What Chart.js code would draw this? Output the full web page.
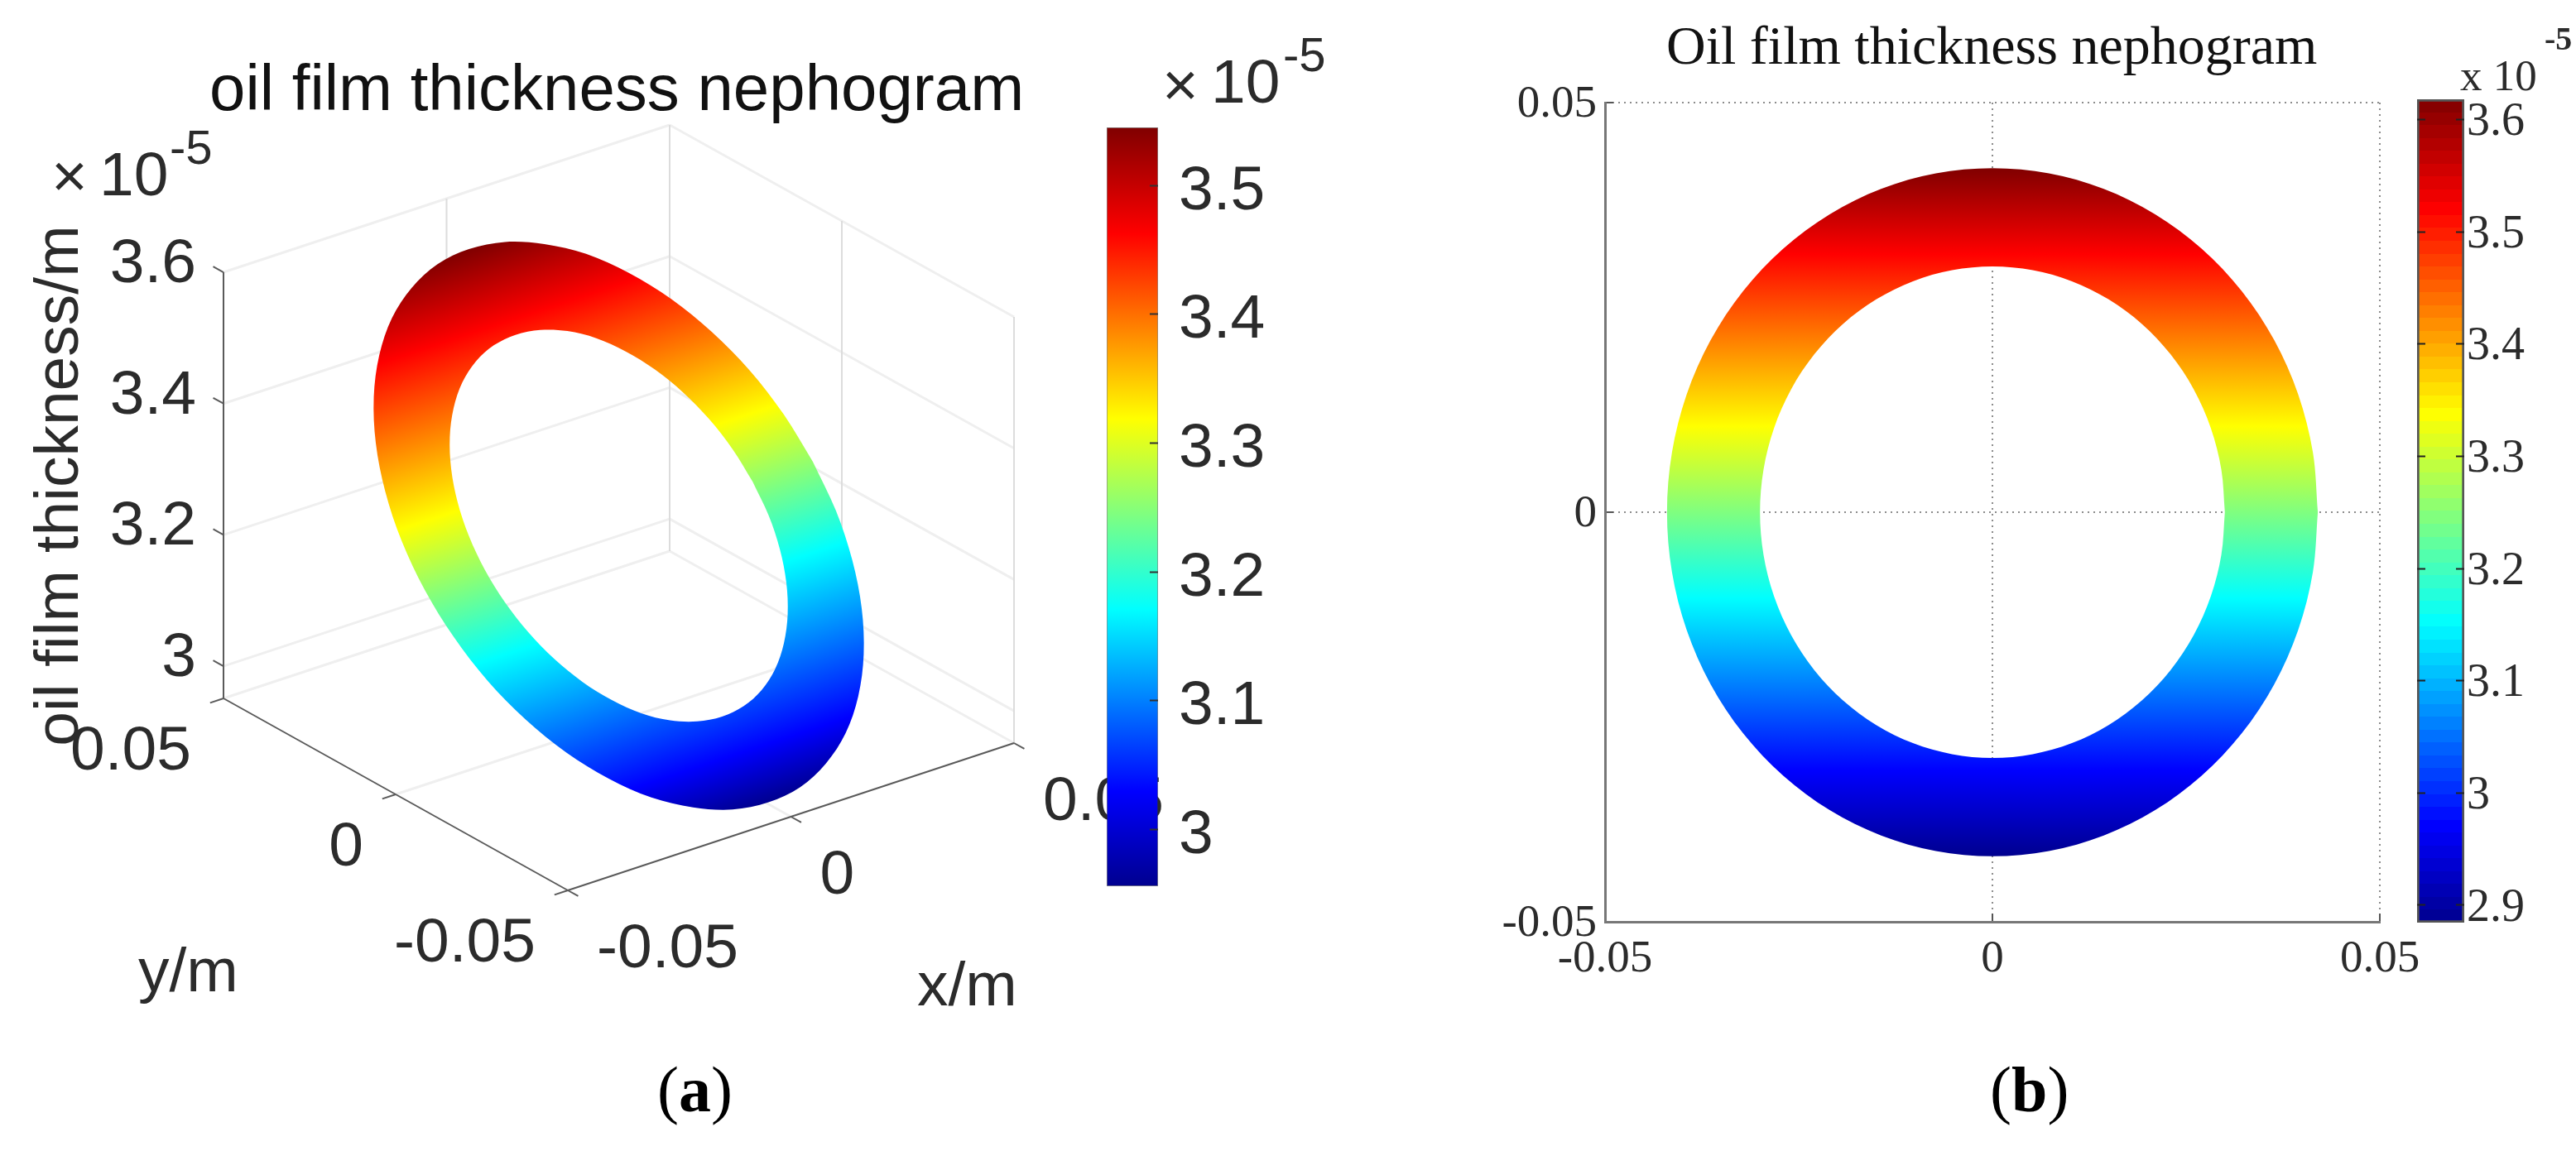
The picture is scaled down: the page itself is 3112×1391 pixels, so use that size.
<!DOCTYPE html>
<html>
<head>
<meta charset="utf-8">
<title>Oil film thickness nephogram</title>
<script src="https://cdn.jsdelivr.net/npm/chart.js@4/dist/chart.umd.js"></script>
<style>
  html, body { margin: 0; background: #fff; }
  #page { position: relative; width: 3112px; height: 1391px; overflow: hidden; }
  canvas { position: absolute; }
  .caption { position: absolute; top: 1272px; font: 78px "Liberation Serif", serif; color: #000; line-height: 90px; }
</style>
</head>
<body>
<div id="page">
  <canvas id="ring3d" style="left:0;top:0" width="1500" height="1391"></canvas>
  <canvas id="barA" style="left:1300px;top:0" width="400" height="1250"></canvas>
  <canvas id="ring2d" style="left:1750px;top:0" width="1200" height="1250"></canvas>
  <canvas id="barB" style="left:2900px;top:0" width="212" height="1250"></canvas>
  <div class="caption" style="left:794px">(<b>a</b>)</div>
  <div class="caption" style="left:2404px">(<b>b</b>)</div>
</div>

<script>
// Ring outline (angle in degrees, radius in m)
const ringAngles = [0, 10, 20, 30, 40, 50, 60, 70, 80, 90, 100, 110, 120, 130, 140, 150, 160, 170, 180, 190, 200, 210, 220, 230, 240, 250, 260, 270, 280, 290, 300, 310, 320, 330, 340, 350, 360];
const outerThickness = [3.248, 3.299, 3.349, 3.395, 3.437, 3.473, 3.503, 3.524, 3.538, 3.542, 3.538, 3.524, 3.503, 3.473, 3.437, 3.395, 3.349, 3.299, 3.248, 3.197, 3.147, 3.101, 3.059, 3.023, 2.993, 2.972, 2.958, 2.954, 2.958, 2.972, 2.993, 3.023, 3.059, 3.101, 3.147, 3.197, 3.248];
const innerThickness = [3.248, 3.283, 3.317, 3.349, 3.378, 3.403, 3.424, 3.439, 3.448, 3.451, 3.448, 3.439, 3.424, 3.403, 3.378, 3.349, 3.317, 3.283, 3.248, 3.213, 3.179, 3.147, 3.118, 3.093, 3.072, 3.057, 3.048, 3.045, 3.048, 3.057, 3.072, 3.093, 3.118, 3.147, 3.179, 3.213, 3.248];
const outerRadiusA = 0.0435;
const outerRadiusB = 0.042;
const innerRadius = 0.03;

// Axis ticks
const xTicks = [-0.05, 0, 0.05];
const yTicks = [-0.05, 0, 0.05];
const zTicks = [3, 3.2, 3.4, 3.6];
const barTicksA = [3, 3.1, 3.2, 3.3, 3.4, 3.5];
const barTicksB = [2.9, 3, 3.1, 3.2, 3.3, 3.4, 3.5, 3.6];

// Axis limits
const zMin = 2.951;
const zMax = 3.6;
const barRangeA = [2.956, 3.545];
const barRangeB = [2.8845, 3.618];

// Jet colormap, with the band positions measured in each part of the picture
const jetColors = [[0, 0, 143], [0, 0, 255], [0, 255, 255], [255, 255, 0], [255, 0, 0], [128, 0, 0]];
const jetPositions = [0, 0.125, 0.375, 0.625, 0.875, 1];
const jetPositionsRingA = [0, 0.09, 0.36, 0.605, 0.87, 1];
const jetPositionsBarA = [0, 0.125, 0.365, 0.616, 0.86, 1];
const jetPositionsBarB = [0, 0.118, 0.364, 0.618, 0.865, 1];

const SANS = '"Liberation Sans", Arial, sans-serif';
const SERIF = '"Liberation Serif", "Times New Roman", serif';
const INK = '#2b2b2b';

function jetAt(t, positions) {
  let i = 0;
  while (i < positions.length - 2 && t > positions[i + 1]) i++;
  const f = (t - positions[i]) / (positions[i + 1] - positions[i]);
  const rgb = jetColors[i].map((c, k) => Math.round(c + (jetColors[i + 1][k] - c) * f));
  return `rgb(${rgb.join(',')})`;
}

// Fill a gradient with the colormap, smooth or in hard steps
function addJetStops(gradient, positions, levels) {
  if (!levels) {
    positions.forEach((p) => gradient.addColorStop(p, jetAt(p, positions)));
    return gradient;
  }
  for (let i = 0; i < levels; i++) {
    const color = jetAt((i + 0.5) / levels, positions);
    gradient.addColorStop(i / levels, color);
    gradient.addColorStop((i + 1) / levels, color);
  }
  return gradient;
}

// View of panel (a): data coordinates to the units of its hidden scales
function project(x, y, z) {
  const u = (x + 0.05) / 0.1;
  const v = (y + 0.05) / 0.1;
  return {
    x: 686 + u * 539 - v * 416,
    y: 1076 - u * 178 - v * 232 - (z - zMin) * 793.5
  };
}

// Outer circle forwards, inner circle backwards: the fill leaves a hole.
// The seam points are doubled so the spline stays straight across the bridge.
function ringPoints(outerRadius, toPoint) {
  const points = [];
  ringAngles.forEach((a, i) => {
    const t = a * Math.PI / 180;
    points.push(toPoint(outerRadius * Math.cos(t), outerRadius * Math.sin(t), outerThickness[i]));
  });
  points.push(points[points.length - 1]);
  const innerStart = points.length;
  for (let i = ringAngles.length - 1; i >= 0; i--) {
    const t = ringAngles[i] * Math.PI / 180;
    points.push(toPoint(innerRadius * Math.cos(t), innerRadius * Math.sin(t), innerThickness[i]));
  }
  points.splice(innerStart, 0, points[innerStart]);
  return points;
}

function line3d(from, to, color, width) {
  return {
    data: [project(...from), project(...to)],
    showLine: true,
    borderColor: color,
    borderWidth: width,
    pointRadius: 0
  };
}

// Plugin that writes the free text of a panel
function textPlugin(items) {
  return {
    id: 'freeText',
    afterDraw(chart) {
      const ctx = chart.ctx;
      ctx.save();
      for (const item of items) {
        ctx.save();
        ctx.translate(item.x, item.y);
        if (item.rotate) ctx.rotate(item.rotate);
        ctx.font = item.font;
        ctx.fillStyle = item.color || INK;
        ctx.textAlign = item.align || 'left';
        ctx.textBaseline = 'alphabetic';
        ctx.fillText(item.text, 0, 0);
        ctx.restore();
      }
      ctx.restore();
    }
  };
}

const basePlugins = { legend: { display: false }, tooltip: { enabled: false } };

// Panel (a): walls, axes and the tilted ring
function buildRing3d() {
  const lo = -0.05;
  const hi = 0.05;
  const wall = '#efefef';
  const edge = '#dcdcdc';
  const axisColor = '#5a5a5a';
  const datasets = [];

  datasets.push({
    data: ringPoints(outerRadiusA, project),
    showLine: true,
    fill: 'shape',
    tension: 0.335,
    borderWidth: 0,
    pointRadius: 0,
    backgroundColor(context) {
      const chart = context.chart;
      if (!chart.chartArea) return 'transparent';
      const sx = chart.scales.x;
      const sy = chart.scales.y;
      // lines of equal thickness run along the x axis of the view
      const a = project(-0.05, 0, zMin);
      const b = project(0.05, 0, zMin);
      const dx = sx.getPixelForValue(b.x) - sx.getPixelForValue(a.x);
      const dy = sy.getPixelForValue(b.y) - sy.getPixelForValue(a.y);
      const len = Math.hypot(dx, dy);
      const nx = -dy / len;
      const ny = dx / len;
      const iMax = outerThickness.indexOf(Math.max(...outerThickness));
      const iMin = outerThickness.indexOf(Math.min(...outerThickness));
      const pts = ringPoints(outerRadiusA, project);
      const p0 = pts[iMin];
      const p1 = pts[iMax];
      const x0 = sx.getPixelForValue(p0.x);
      const y0 = sy.getPixelForValue(p0.y);
      const d = (sx.getPixelForValue(p1.x) - x0) * nx + (sy.getPixelForValue(p1.y) - y0) * ny;
      return addJetStops(chart.ctx.createLinearGradient(x0, y0, x0 + nx * d, y0 + ny * d), jetPositionsRingA);
    }
  });

  // Axes and tick marks
  datasets.push(line3d([lo, hi, zMin], [lo, hi, zMax], axisColor, 2));
  datasets.push(line3d([lo, lo, zMin], [lo, hi, zMin], axisColor, 2));
  datasets.push(line3d([lo, lo, zMin], [hi, lo, zMin], axisColor, 2));
  zTicks.forEach((z) => datasets.push(line3d([lo, hi, z], [lo, hi + 0.003, z], axisColor, 2)));
  xTicks.forEach((x) => datasets.push(line3d([x, lo, zMin], [x, lo - 0.003, zMin], axisColor, 2)));
  yTicks.forEach((y) => datasets.push(line3d([lo, y, zMin], [lo - 0.003, y, zMin], axisColor, 2)));

  // Back walls and floor
  xTicks.forEach((x) => datasets.push(line3d([x, hi, zMin], [x, hi, zMax], edge, 2)));
  yTicks.slice(0, 2).forEach((y) => datasets.push(line3d([hi, y, zMin], [hi, y, zMax], edge, 2)));
  zTicks.forEach((z) => {
    datasets.push(line3d([lo, hi, z], [hi, hi, z], wall, 3));
    datasets.push(line3d([hi, hi, z], [hi, lo, z], wall, 3));
  });
  xTicks.slice(1).forEach((x) => datasets.push(line3d([x, lo, zMin], [x, hi, zMin], wall, 3)));
  yTicks.slice(1).forEach((y) => datasets.push(line3d([lo, y, zMin], [hi, y, zMin], wall, 3)));

  // Tick labels sit at a fixed offset from their ticks
  const big = `75px ${SANS}`;
  const labels = [
    { text: 'oil film thickness nephogram', x: 253, y: 133, font: `78px ${SANS}`, color: '#111' },
    { text: 'oil film thickness/m', x: 94, y: 587, font: big, align: 'center', rotate: -Math.PI / 2 },
    { text: '\u00d7', x: 62, y: 238, font: big },
    { text: '10', x: 120, y: 236, font: big },
    { text: '-5', x: 205, y: 198, font: `58px ${SANS}` },
    { text: 'y/m', x: 167, y: 1198, font: big },
    { text: 'x/m', x: 1108, y: 1215, font: big }
  ];
  zTicks.forEach((z) => {
    const p = project(lo, hi, z);
    labels.push({ text: String(z), x: p.x - 33, y: p.y + 12, font: big, align: 'right' });
  });
  xTicks.forEach((x) => {
    const p = project(x, lo, zMin);
    labels.push({ text: String(x), x: p.x + 35, y: p.y + 93, font: big });
  });
  yTicks.forEach((y) => {
    const p = project(lo, y, zMin);
    labels.push({ text: String(y), x: p.x - 39, y: p.y + 86, font: big, align: 'right' });
  });

  new Chart(document.querySelector('#ring3d'), {
    type: 'scatter',
    data: { datasets },
    plugins: [textPlugin(labels)],
    options: {
      responsive: false,
      animation: false,
      layout: { autoPadding: false, padding: 0 },
      plugins: basePlugins,
      scales: {
        x: { type: 'linear', display: false, min: 0, max: 1500 },
        y: { type: 'linear', display: false, min: 0, max: 1391, reverse: true }
      }
    }
  });
}

// Panel (b): flat ring on dotted grid
function buildRing2d() {
  const dotted = { display: true, color: '#777', width: 3, dash: [2, 5] };
  const grid = { color: '#8c8c8c', lineWidth: 2, tickLength: -10, tickColor: '#555', tickWidth: 2, tickBorderDash: [] };
  const tickFont = { family: SERIF, size: 55 };

  new Chart(document.querySelector('#ring2d'), {
    type: 'scatter',
    data: {
      datasets: [{
        data: ringPoints(outerRadiusB, (x, y) => ({ x, y })),
        showLine: true,
        fill: 'shape',
        tension: 0.335,
        borderWidth: 0,
        pointRadius: 0,
        backgroundColor(context) {
          const chart = context.chart;
          if (!chart.chartArea) return 'transparent';
          const sy = chart.scales.y;
          return addJetStops(chart.ctx.createLinearGradient(0, sy.getPixelForValue(-outerRadiusB), 0, sy.getPixelForValue(outerRadiusB)), jetPositions);
        }
      }]
    },
    plugins: [textPlugin([
      { text: 'Oil film thickness nephogram', x: 263, y: 77, font: `66px ${SERIF}`, color: '#111' }
    ])],
    options: {
      responsive: false,
      animation: false,
      layout: { autoPadding: false, padding: { left: 0, top: 124, right: 75, bottom: 0 } },
      plugins: basePlugins,
      scales: {
        x: {
          type: 'linear',
          min: -0.05,
          max: 0.05,
          border: dotted,
          grid,
          afterBuildTicks(axis) { axis.ticks = xTicks.map((value) => ({ value })); },
          afterFit(axis) { axis.height = 136; },
          ticks: { color: INK, font: tickFont, padding: 23, maxRotation: 0, autoSkip: false, callback: (v) => String(v) }
        },
        y: {
          type: 'linear',
          min: -0.05,
          max: 0.05,
          border: dotted,
          grid,
          afterBuildTicks(axis) { axis.ticks = yTicks.map((value) => ({ value })); },
          afterFit(axis) { axis.width = 189; },
          ticks: { color: INK, font: tickFont, padding: 20, labelOffset: 3, autoSkip: false, callback: (v) => String(v) }
        }
      }
    }
  });
}

// Colorbars: one floating bar over the value range
function buildBar(selector, range, tickValues, padding, style, labels) {
  const tickAxis = (position, showLabels, width) => ({
    type: 'linear',
    position,
    min: range[0],
    max: range[1],
    border: { display: false },
    grid: { drawOnChartArea: false, z: 1, tickLength: -style.tickLength, tickColor: style.tickColor, tickWidth: 2 },
    afterBuildTicks(axis) { axis.ticks = tickValues.map((value) => ({ value })); },
    afterFit(axis) { axis.width = width; },
    ticks: { display: showLabels, color: INK, font: style.font, padding: style.labelGap + style.tickLength, labelOffset: style.labelOffset, autoSkip: false, callback: (v) => String(v) }
  });

  const scales = { x: { display: false }, y: tickAxis('right', true, style.rightWidth) };
  if (style.leftWidth) scales.left = tickAxis('left', false, style.leftWidth);

  new Chart(document.querySelector(selector), {
    type: 'bar',
    data: {
      labels: ['thickness'],
      datasets: [{
        data: [range],
        categoryPercentage: 1,
        barPercentage: 1,
        borderWidth: style.borderWidth,
        borderColor: style.borderColor,
        borderSkipped: false,
        backgroundColor(context) {
          const chart = context.chart;
          if (!chart.chartArea) return 'transparent';
          const sy = chart.scales.y;
          return addJetStops(chart.ctx.createLinearGradient(0, sy.getPixelForValue(range[0]), 0, sy.getPixelForValue(range[1])), style.positions, style.levels);
        }
      }]
    },
    plugins: [textPlugin(labels)],
    options: {
      responsive: false,
      animation: false,
      layout: { autoPadding: false, padding },
      plugins: basePlugins,
      scales
    }
  });
}

buildRing3d();
buildRing2d();

buildBar('#barA', barRangeA, barTicksA,
  { left: 37, top: 154, right: 0, bottom: 179 },
  { font: { family: SANS, size: 75 }, labelGap: 25, labelOffset: 8, tickLength: 10, tickColor: '#333', borderWidth: 1, borderColor: 'rgba(50,50,50,0.6)', positions: jetPositionsBarA, levels: 0, rightWidth: 301 },
  [
    { text: '\u00d7', x: 104, y: 128, font: `75px ${SANS}` },
    { text: '10', x: 163, y: 124, font: `75px ${SANS}` },
    { text: '-5', x: 250, y: 86, font: `58px ${SANS}` }
  ]);

buildBar('#barB', barRangeB, barTicksB,
  { left: 0, top: 120, right: 0, bottom: 135 },
  { font: { family: SERIF, size: 56 }, labelGap: 3, labelOffset: 4, tickLength: 10, tickColor: '#222', borderWidth: 3, borderColor: '#555', positions: jetPositionsBarB, levels: 64, rightWidth: 135, leftWidth: 20 },
  [
    { text: 'x 10', x: 72, y: 109, font: `53px ${SERIF}` },
    { text: '-5', x: 174, y: 60, font: `bold 40px ${SERIF}` }
  ]);
</script>
</body>
</html>
